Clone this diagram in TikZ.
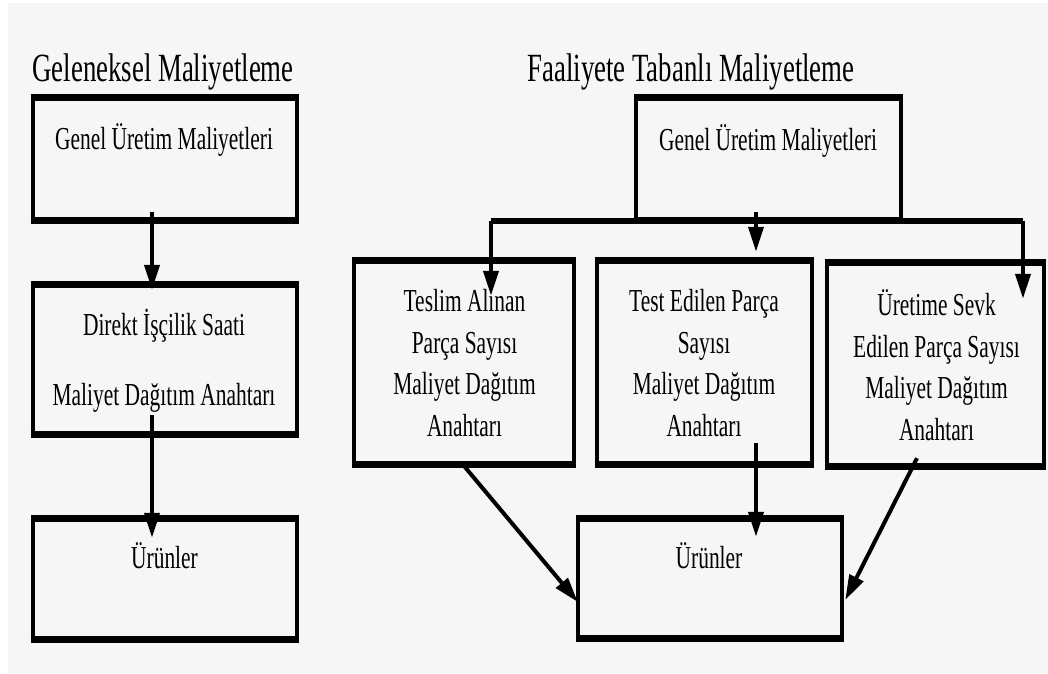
\documentclass[tikz,border=0pt]{standalone}
\usepackage{fontspec}
\setmainfont[FakeStretch=0.67]{Liberation Serif}
\usetikzlibrary{arrows.meta}
\definecolor{paper}{RGB}{246,246,246}
\begin{document}
\begin{tikzpicture}[x=1pt,y=-1pt,
  box/.style={draw=none, inner sep=0pt},
  vedge/.style={line width=4pt},
  hedge/.style={line width=7pt, shorten <=-2pt, shorten >=-2pt},
  busline/.style={line width=6pt},
  arr/.style={line width=4pt, -{Triangle[length=25pt,width=15pt]}},
  lbl/.style={inner sep=0pt, align=center, anchor=base, font=\fontsize{32}{41.5}\selectfont},
  ttl/.style={inner sep=0pt, anchor=base, font=\fontsize{40}{48}\selectfont}]

% page
\fill[white] (0,0) rectangle (1048,673);
\fill[paper] (8,3) rectangle (1048,673);
\useasboundingbox (0,0) rectangle (1048,673);

% titles
\node[ttl] (tL) at (163,81) {Geleneksel Maliyetleme};
\node[ttl] (tR) at (691,81) {Faaliyete Tabanlı Maliyetleme};

% boxes (centre line of the frame)
\node[box, minimum width=264, minimum height=123] (L1) at (165,159) {};
\node[box, minimum width=264, minimum height=150] (L2) at (165,359.5) {};
\node[box, minimum width=264, minimum height=121] (L3) at (165,579) {};
\node[box, minimum width=265, minimum height=123] (R0) at (768.5,159) {};
\node[box, minimum width=220, minimum height=204] (R1) at (464,362.5) {};
\node[box, minimum width=215, minimum height=204] (R2) at (704.5,362.5) {};
\node[box, minimum width=217, minimum height=204] (R3) at (935.5,364.5) {};
\node[box, minimum width=264, minimum height=120] (R4) at (710,578.5) {};

\foreach \n in {L1,L2,L3,R0,R1,R2,R3,R4}{
  \draw[vedge] (\n.north west) -- (\n.south west) (\n.north east) -- (\n.south east);
  \draw[hedge] (\n.north west) -- (\n.north east);
  \draw[hedge] (\n.south west) -- (\n.south east);
}

% box texts (multi-line nodes sit on the baseline of their last line)
\node[lbl] (xL1) at (164,149) {Genel Üretim Maliyetleri};
\node[lbl] (xL2) at (164,405) {Direkt İşçilik Saati\\[28.5pt]Maliyet Dağıtım Anahtarı};
\node[lbl] (xL3) at (164.5,568) {Ürünler};
\node[lbl] (xR0) at (768,150) {Genel Üretim Maliyetleri};
\node[lbl] (xR1) at (464.5,436) {Teslim Alınan\\Parça Sayısı\\Maliyet Dağıtım\\Anahtarı};
\node[lbl] (xR2) at (704,436) {Test Edilen Parça\\Sayısı\\Maliyet Dağıtım\\Anahtarı};
\node[lbl] (xR3) at (936.5,440) {Üretime Sevk\\Edilen Parça Sayısı\\Maliyet Dağıtım\\Anahtarı};
\node[lbl] (xR4) at (709,568) {Ürünler};

% traditional costing flow
\draw[arr] ([xshift=-13pt,yshift=8.5pt]L1.south) -- ([xshift=-13pt,yshift=-5.5pt]L2.north);
\draw[arr] ([xshift=-13pt,yshift=19.5pt]L2.south) -- ([xshift=-13pt,yshift=-19.5pt]L3.north);

% activity based costing: distribution bus
\coordinate (busL) at ([xshift=27pt]R1.north |- R0.south);
\coordinate (busR) at ([xshift=87.5pt]R3.north |- R0.south);
\draw[busline] (busL) -- (busR);
\draw[arr] (busL) -- ([xshift=27pt,yshift=-35.5pt]R1.north);
\draw[arr] (busR) -- ([xshift=87.5pt,yshift=-36.5pt]R3.north);
\draw[arr] ([xshift=-12.5pt,yshift=8.5pt]R0.south) -- ([xshift=51.5pt,yshift=8.5pt]R2.north);

% drivers to products
\draw[arr] ([xshift=-1pt]R1.south) -- ([yshift=-23.5pt]R4.west);
\draw[arr] ([xshift=51.5pt,yshift=21.5pt]R2.south) -- ([xshift=46pt,yshift=-18.5pt]R4.north);
\draw[arr] ([xshift=-18.5pt,yshift=8.5pt]R3.south) -- ([xshift=3pt,yshift=-21.5pt]R4.east);
\end{tikzpicture}
\end{document}
